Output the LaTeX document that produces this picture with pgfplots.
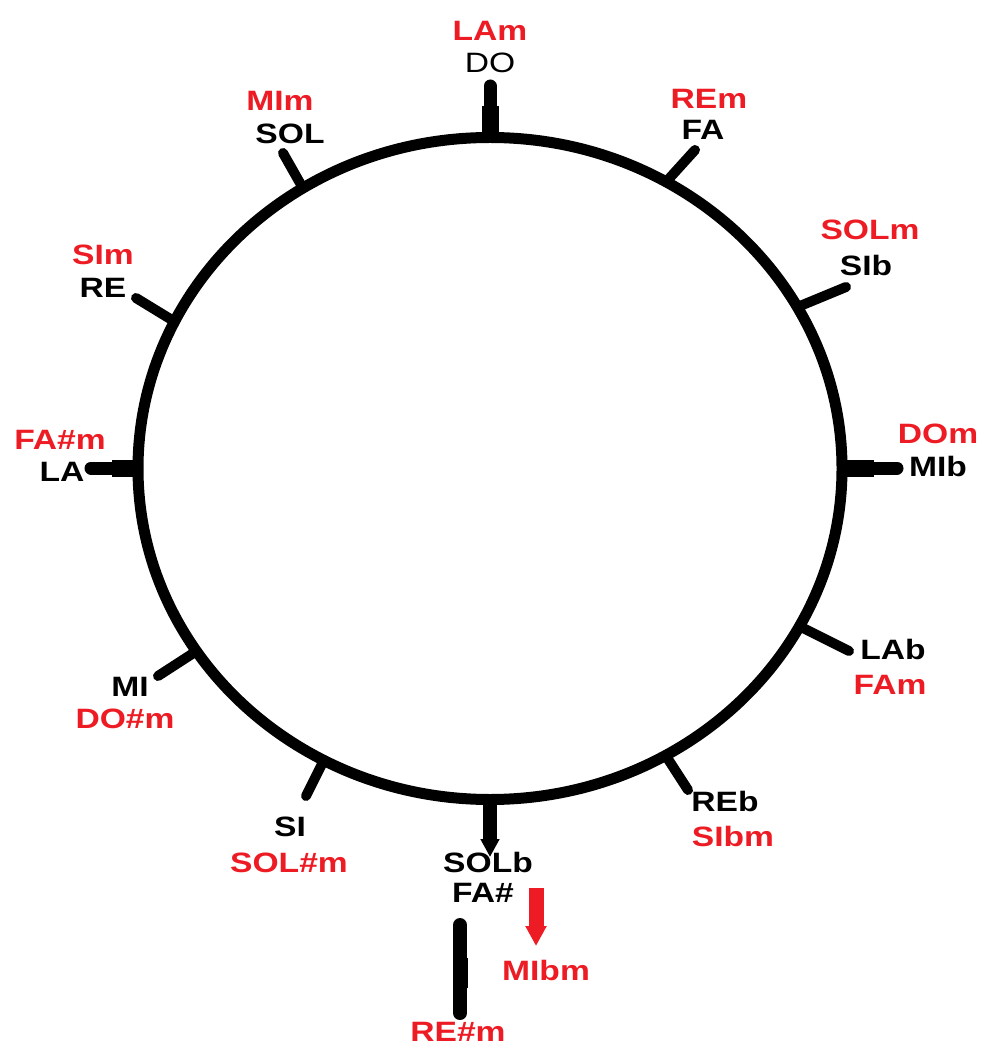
\documentclass[border=0pt]{standalone}
\usepackage{pgfplots}
\pgfplotsset{compat=1.18}
\usepackage{fontspec}
\setmainfont{Liberation Sans}[FakeStretch=1.2]
\usetikzlibrary{arrows.meta}
\definecolor{pred}{RGB}{237,28,36}
\tikzset{lab/.style={font=\fontsize{14}{16}\selectfont\bfseries, inner sep=0pt, anchor=center},
         labr/.style={lab, text=pred}}
\begin{document}
\begin{tikzpicture}
\begin{axis}[
  scale only axis, width=491.5pt, height=526pt,
  xmin=0, xmax=983, ymin=0, ymax=1052, y dir=reverse,
  hide axis, clip=false,
]
\addplot[draw=none] coordinates {(0,0) (983,1052)};
% circle
\draw[line width=5.5pt] (axis cs:490,468.5) ellipse [x radius=352, y radius=331];
% short ticks
\addplot[line width=5pt, line cap=round] coordinates {(666,182) (695,150)};
\addplot[line width=5pt, line cap=round] coordinates {(800,306) (846,287)};
\addplot[line width=5pt, line cap=round] coordinates {(803,628) (849,651)};
\addplot[line width=5pt, line cap=round] coordinates {(666,756) (688,790)};
\addplot[line width=5pt, line cap=round] coordinates {(324,760) (306,796)};
\addplot[line width=5pt, line cap=round] coordinates {(192,654) (158,676)};
\addplot[line width=5pt, line cap=round] coordinates {(172,320) (136,298)};
\addplot[line width=5pt, line cap=round] coordinates {(300,183) (283,153)};
% cardinal arrows
\addplot[line width=8.5pt] coordinates {(490,137) (490,106)};
\addplot[line width=6.5pt, line cap=round] coordinates {(490,108) (490,86)};
\addplot[line width=8.5pt] coordinates {(842,468) (874,468)};
\addplot[line width=6.5pt, line cap=round] coordinates {(872,468) (897,468)};
\addplot[line width=8.5pt] coordinates {(138,468) (112,468)};
\addplot[line width=6.5pt, line cap=round] coordinates {(114,468) (91,468)};
\addplot[line width=7pt, -{Triangle[length=9pt,width=9pt]}] coordinates {(490,800) (490,857)};
% extra arrows
\addplot[line width=7pt, line cap=round] coordinates {(460,925) (460,1013)};
\addplot[line width=7.5pt] coordinates {(460,958) (460,988)};
\addplot[pred, line width=7.5pt, -{Triangle[length=10pt,width=10pt]}] coordinates {(536,888) (536,946)};
% labels
\node[labr] at (axis cs:490,31) {LAm};
\node[lab, font=\fontsize{14}{16}\selectfont] at (axis cs:490,63) {DO};
\node[labr] at (axis cs:709,99) {REm};
\node[lab] at (axis cs:703,130) {FA};
\node[labr] at (axis cs:870,230) {SOLm};
\node[lab] at (axis cs:866,265) {SIb};
\node[labr] at (axis cs:938,434) {DOm};
\node[lab] at (axis cs:938,466) {MIb};
\node[lab] at (axis cs:893,649) {LAb};
\node[labr] at (axis cs:890,685) {FAm};
\node[lab] at (axis cs:725,801) {REb};
\node[labr] at (axis cs:733,836) {SIbm};
\node[lab] at (axis cs:488,862) {SOLb};
\node[lab] at (axis cs:483,893) {FA\#};
\node[labr] at (axis cs:546,970) {MIbm};
\node[labr] at (axis cs:458,1032) {RE\#m};
\node[lab] at (axis cs:290,827) {SI};
\node[labr] at (axis cs:289,863) {SOL\#m};
\node[lab] at (axis cs:130,687) {MI};
\node[labr] at (axis cs:125,719) {DO\#m};
\node[labr] at (axis cs:60,440) {FA\#m};
\node[lab] at (axis cs:62,472) {LA};
\node[labr] at (axis cs:103,255) {SIm};
\node[lab] at (axis cs:103,288) {RE};
\node[labr] at (axis cs:280,101) {MIm};
\node[lab] at (axis cs:290,134) {SOL};
\end{axis}
\end{tikzpicture}
\end{document}
